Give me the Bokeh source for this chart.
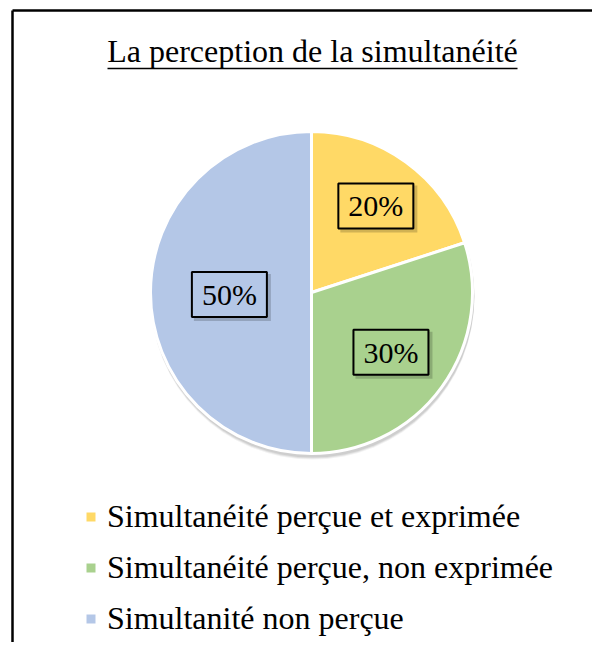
import math
from bokeh.plotting import figure
from bokeh.models import ColumnDataSource, Range1d, Legend, LegendItem
from bokeh.core.properties import value
from bokeh.embed import file_html
from bokeh.resources import INLINE

# ---- data ----
title_text = "La perception de la simultanéité"
categories = ["Simultanéité perçue et exprimée",
              "Simultanéité perçue, non exprimée",
              "Simultanité non perçue"]
percents = [20, 30, 50]
colors = ["#FFD966", "#A9D18E", "#B4C7E7"]

# ---- layout constants (pixels) ----
W, H = 592, 642
CX, CY, R = 311, 350, 161
label_r_frac = [0.68, 0.61, 0.51]
FONT = "Liberation Serif"

# angles, clockwise from 12 o'clock
total = sum(percents)
starts, ends, mids = [], [], []
a = math.pi / 2
for v in percents:
    sweep = 2 * math.pi * v / total
    starts.append(a)
    ends.append(a - sweep)
    mids.append(a - sweep / 2)
    a -= sweep

lx = [CX + f * R * math.cos(m) for f, m in zip(label_r_frac, mids)]
ly = [CY + f * R * math.sin(m) - 2 for f, m in zip(label_r_frac, mids)]
labels = [f"{v}%" for v in percents]

src = ColumnDataSource(dict(cat=categories, start=starts, end=ends,
                            color=colors, lx=lx, ly=ly, label=labels,
                            sx=[x + 3 for x in lx], sy=[y - 3 for y in ly]))

p = figure(width=W, height=H, x_range=Range1d(0, W), y_range=Range1d(0, H),
           output_backend="svg", toolbar_location=None, min_border=0)
p.axis.visible = False
p.grid.visible = False
p.outline_line_color = None
p.background_fill_color = "white"
p.border_fill_color = "white"

# chart border (top and left visible, rest clipped in reference)
p.segment(x0=[12, 12], y0=[632, 632], x1=[W, 12], y1=[632, 0],
          line_color="black", line_width=2.5)

# title with underline
p.text(x=[312], y=[592], text=[title_text], text_font=value(FONT),
       text_font_size="32px", text_align="center", text_baseline="middle",
       text_color="black")
p.segment(x0=[107], y0=[574], x1=[517], y1=[574], line_color="black", line_width=1.5)

# pie shadow
for off, al in [(5, 0.05), (4, 0.07), (3, 0.08)]:
    p.circle(x=[CX + 1], y=[CY - off], radius=R + 1, fill_color="black",
             fill_alpha=al, line_color=None)

wedges = p.wedge(x=CX, y=CY, radius=R, start_angle="start", end_angle="end",
                 direction="clock", fill_color="color", line_color="white",
                 line_width=3, source=src)

# label boxes with shadow
p.rect(x="sx", y="sy", width=77, height=47, width_units="screen",
       height_units="screen", fill_color="black", fill_alpha=0.18,
       line_color=None, source=src)
p.rect(x="lx", y="ly", width=75, height=45, width_units="screen",
       height_units="screen", fill_color="color", line_color="black",
       line_width=2, source=src)
p.text(x="lx", y="ly", text="label", text_font=value(FONT),
       text_font_size="30px", text_align="center", text_baseline="middle",
       text_color="black", source=src)

legend = Legend(items=[LegendItem(label=c, renderers=[wedges], index=i)
                       for i, c in enumerate(categories)],
                location=(83, 5), orientation="vertical",
                label_text_font=FONT, label_text_font_size="32px",
                label_text_color="black", glyph_width=15, glyph_height=15,
                label_standoff=9, spacing=14, padding=0, margin=0,
                border_line_color=None, background_fill_alpha=0)
p.add_layout(legend, "center")

open("out.html", "w").write(file_html(p, INLINE))
